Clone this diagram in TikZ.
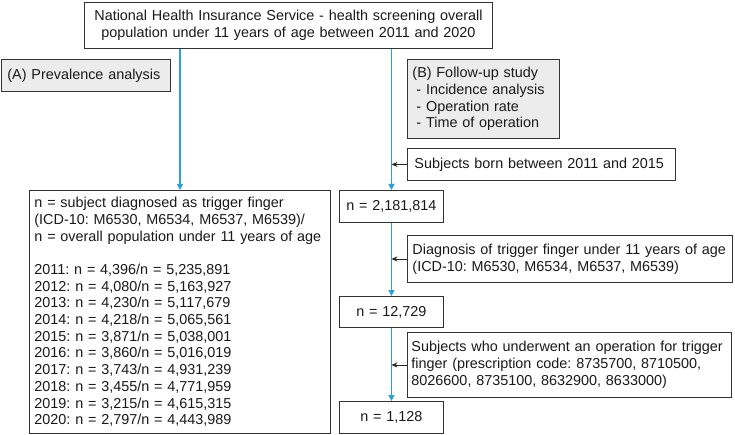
\documentclass[tikz,border=0pt]{standalone}
\usepackage{fontspec}
\setmainfont{Liberation Sans}
\frenchspacing
\usetikzlibrary{arrows.meta}
\definecolor{flowblue}{RGB}{38,160,222}
\definecolor{boxgrey}{RGB}{236,236,236}
\begin{document}
\begin{tikzpicture}[x=1pt,y=-1pt,
    box/.style={draw=black!80,line width=0.9pt,inner ysep=0pt,anchor=north west,
        text=black!90,font=\fontsize{14.4}{16.7}\selectfont},
    greybox/.style={box,fill=boxgrey},
    flow/.style={flowblue,line width=1.1pt,-{Triangle[length=6pt,width=6pt]}},
    side/.style={black!85,line width=0.8pt,-{Stealth[length=6pt,width=5pt]}}]
    \useasboundingbox (0,0) rectangle (735,435);
    \node[box,inner xsep=0pt,text width=408pt,minimum height=46pt,align=center] (top) at (84,2)
        {National Health Insurance Service - health screening overall\\population under 11 years of age between 2011 and 2020};
    \node[greybox,inner xsep=6pt,text width=157pt,minimum height=32pt,align=left] (prev) at (1,59)
        {(A) Prevalence analysis};
    \node[greybox,inner xsep=5pt,text width=142pt,minimum height=79pt,align=left] (follow) at (407,59)
        {(B) Follow-up study\\\hspace*{4pt}- Incidence analysis\\\hspace*{4pt}- Operation rate\\\hspace*{4pt}- Time of operation};
    \node[box,inner xsep=7pt,text width=254pt,minimum height=32pt,align=left] (born) at (407,148)
        {Subjects born between 2011 and 2015};
    \node[box,inner xsep=5pt,text width=291pt,minimum height=243pt,align=left] (prevn) at (29,190)
        {n = subject diagnosed as trigger finger\\(ICD-10: M6530, M6534, M6537, M6539)/\\n = overall population under 11 years of age\\[16.7pt]
        2011: n = 4,396/n = 5,235,891\\2012: n = 4,080/n = 5,163,927\\2013: n = 4,230/n = 5,117,679\\
        2014: n = 4,218/n = 5,065,561\\2015: n = 3,871/n = 5,038,001\\2016: n = 3,860/n = 5,016,019\\
        2017: n = 3,743/n = 4,931,239\\2018: n = 3,455/n = 4,771,959\\2019: n = 3,215/n = 4,615,315\\
        2020: n = 2,797/n = 4,443,989};
    \node[box,inner xsep=0pt,text width=104pt,minimum height=32pt,align=center] (nborn) at (339,190)
        {n = 2,181,814};
    \node[box,inner xsep=5pt,text width=315pt,minimum height=47pt,align=left] (diag) at (407,235)
        {Diagnosis of trigger finger under 11 years of age\\(ICD-10: M6530, M6534, M6537, M6539)};
    \node[box,inner xsep=0pt,text width=104pt,minimum height=31pt,align=center] (ndiag) at (339,296)
        {n = 12,729};
    \node[box,inner xsep=4pt,text width=316pt,minimum height=65pt,align=left] (oper) at (407,332)
        {Subjects who underwent an operation for trigger\\finger (prescription code: 8735700, 8710500,\\8026600, 8735100, 8632900, 8633000)};
    \node[box,inner xsep=0pt,text width=104pt,minimum height=32pt,align=center] (noper) at (339,401)
        {n = 1,128};
    \draw[flow] (top.south -| prevn.north) -- (prevn.north);
    \draw[flow] (top.south -| nborn.north) -- (nborn.north);
    \draw[flow] (nborn.south) -- (ndiag.north);
    \draw[flow] (ndiag.south) -- (noper.north);
    \draw[side] (born.west) -- (born.west -| nborn.center);
    \draw[side] (diag.west) -- (diag.west -| nborn.center);
    \draw[side] (oper.west) -- (oper.west -| nborn.center);
\end{tikzpicture}
\end{document}
